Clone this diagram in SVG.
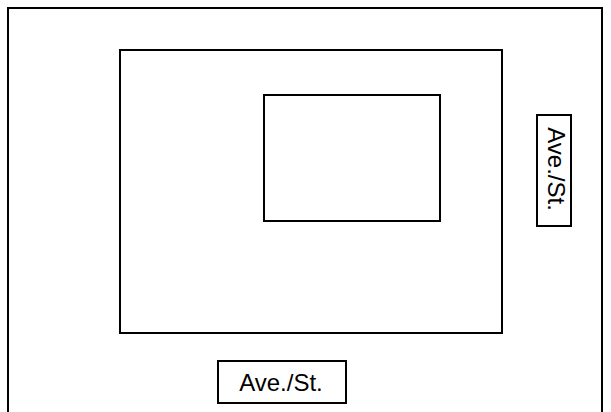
<svg xmlns="http://www.w3.org/2000/svg" width="611" height="412" viewBox="0 0 611 412">
<style>
.box{fill:#fff;stroke:#000;stroke-width:2}
.lbl{font-family:"Liberation Sans",Arial,sans-serif;font-size:24px;fill:#000;text-anchor:middle}
</style>
<rect width="611" height="412" fill="#fff"/>
<g id="outer"><rect class="box" x="8" y="8" width="594" height="420"/></g>
<g id="block"><rect class="box" x="120" y="50" width="382" height="283"/></g>
<g id="inner"><rect class="box" x="264" y="95" width="176" height="126"/></g>
<g id="label-right"><rect class="box" x="537" y="115" width="34" height="111"/>
<text class="lbl" transform="translate(548,169) rotate(90)">Ave./St.</text></g>
<g id="label-bottom"><rect class="box" x="218" y="361" width="128" height="42"/>
<text class="lbl" x="281" y="391">Ave./St.</text></g>
<g id="connectors"/>
</svg>
